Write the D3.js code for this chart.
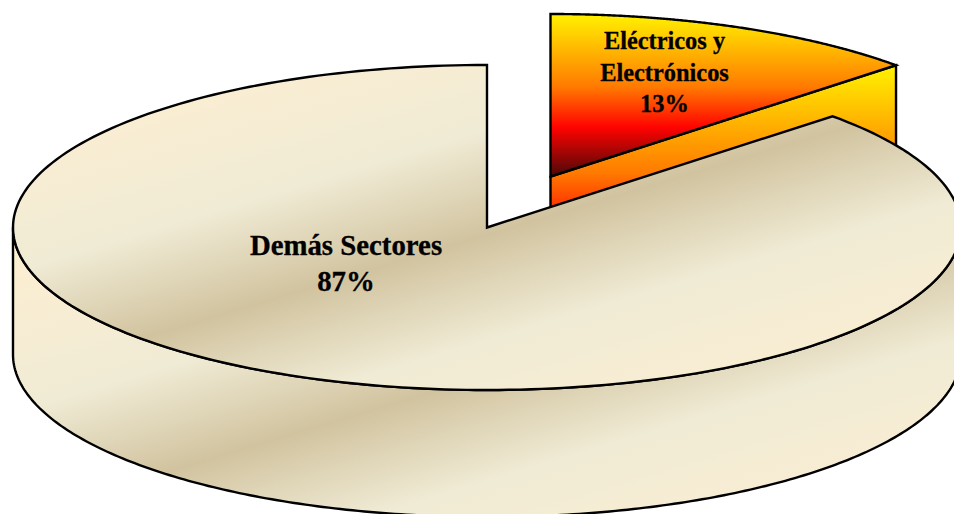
<!DOCTYPE html>
<html>
<head>
<meta charset="utf-8">
<script src="https://cdn.jsdelivr.net/npm/d3@7"></script>
<style>
html,body{margin:0;padding:0;background:#fff;overflow:hidden}
svg{display:block}
text{font-family:"Liberation Serif","Times New Roman",serif;font-weight:bold;fill:#000;stroke:#000;stroke-width:.3px;text-anchor:middle}
</style>
</head>
<body>
<div id="chart"></div>
<script>
const categories = ["Eléctricos y Electrónicos", "Demás Sectores"];
const shares = [13, 87];
const labelLines = [["Eléctricos y", "Electrónicos", "13%"], ["Demás Sectores", "87%"]];
const fireStops = [[0, "#FFF200"], [45, "#FF7A00"], [70, "#FF0300"], [100, "#4D0808"]];
const parchmentStops = [[0, "#FFEFD1"], [32, "#F0EBD5"], [50, "#D1C39F"], [68, "#F0EBD5"], [100, "#FFEFD1"]];

const W = 954, H = 514;
const rx = 474, ry = 162.5, depth = 127;
const centers = [{x: 550.5, y: 176.5}, {x: 487, y: 227.5}];
const labelPos = [{x: 664.5, y: 49, size: 24.4, lh: 31.5}, {x: 346, y: 255, size: 28.8, lh: 36}];

const svg = d3.select("#chart").append("svg").attr("width", W).attr("height", H);
const defs = svg.append("defs");

function gradient(id, stops, x1, y1, x2, y2) {
  const g = defs.append("linearGradient").attr("id", id).attr("gradientUnits", "userSpaceOnUse")
    .attr("x1", x1).attr("y1", y1).attr("x2", x2).attr("y2", y2);
  g.selectAll("stop").data(stops).join("stop")
    .attr("offset", d => d[0] + "%").attr("stop-color", d => d[1]);
}
const nx = 0.287, ny = 0.958, half = 280;
gradient("parchTop", parchmentStops, 487 - nx * half, 235 - ny * half, 487 + nx * half, 235 + ny * half);
gradient("parchSide", parchmentStops, 487 - nx * half, 376 - ny * half, 487 + nx * half, 376 + ny * half);
gradient("fireTop", fireStops, 0, 14, 0, 176);
gradient("fireSide", fireStops, 0, 66, 0, 303);

const arcs = d3.pie().sort(null).value(d => d)(shares);

const ux = d3.scaleLinear().domain([-1, 1]).range([-rx, rx]);
const uy = d3.scaleLinear().domain([-1, 1]).range([ry, -ry]);
const line = d3.line().x(d => d[0]).y(d => d[1]);

const rim = (c, a0, a1, dy = 0) =>
  d3.range(0, 241).map(i => {
    const a = a0 + (a1 - a0) * i / 240;
    return [c.x + ux(Math.sin(a)), c.y + dy + uy(Math.cos(a))];
  });

const style = {stroke: "#000", "stroke-width": 2.4, "stroke-linejoin": "miter"};
function draw(points, fill) {
  const p = svg.append("path").attr("d", line(points) + "Z").attr("fill", fill);
  Object.entries(style).forEach(([k, v]) => p.attr(k, v));
}

// Small slice: cut face, then top
const s = arcs[0], cs = centers[0];
const sEnd = rim(cs, s.endAngle, s.endAngle)[0];
draw([[cs.x, cs.y], sEnd, [sEnd[0], sEnd[1] + depth], [cs.x, cs.y + depth]], "url(#fireSide)");
draw([[cs.x, cs.y], ...rim(cs, s.startAngle, s.endAngle)], "url(#fireTop)");

// Large slice: outer wall, then top
const b = arcs[1], cb = centers[1];
draw([...rim(cb, Math.PI / 2, 3 * Math.PI / 2), ...rim(cb, 3 * Math.PI / 2, Math.PI / 2, depth)], "url(#parchSide)");
draw([[cb.x, cb.y], ...rim(cb, b.startAngle, b.endAngle)], "url(#parchTop)");

labelLines.forEach((lines, i) => {
  const p = labelPos[i];
  svg.selectAll(null).data(lines).join("text")
    .attr("x", p.x).attr("y", (d, j) => p.y + j * p.lh)
    .attr("font-size", p.size).text(d => d);
});
</script>
</body>
</html>
